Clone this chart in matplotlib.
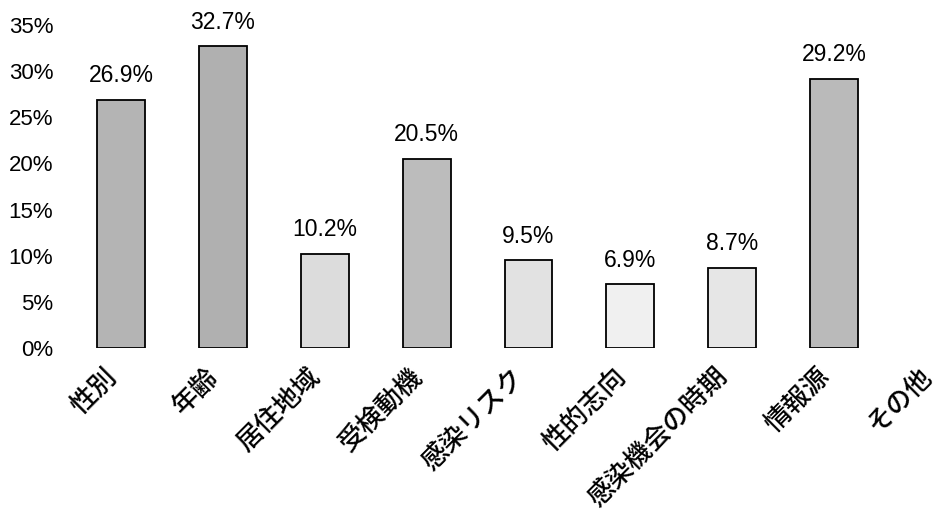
import matplotlib
matplotlib.use("Agg")
import matplotlib.pyplot as plt
from matplotlib.transforms import ScaledTranslation

categories = ["性別", "年齢", "居住地域", "受検動機", "感染リスク", "性的志向", "感染機会の時期", "情報源", "その他"]
values = [26.9, 32.7, 10.2, 20.5, 9.5, 6.9, 8.7, 29.2, None]
yticks = [0, 5, 10, 15, 20, 25, 30, 35]

face_colors = ["#b4b4b4", "#b0b0b0", "#dcdcdc", "#bcbcbc", "#e2e2e2", "#f0f0f0", "#e6e6e6", "#bababa", "#ffffff"]

W, H = 938, 516
fig = plt.figure(figsize=(W / 100, H / 100), dpi=100)
left_px, right_px = 70, 938
bottom_px, top_px = 516 - 348, 516 - 25
ax = fig.add_axes([left_px / W, bottom_px / H, (right_px - left_px) / W, (top_px - bottom_px) / H])

xs = list(range(len(categories)))
for x, v, c in zip(xs, values, face_colors):
    if v is None:
        continue
    ax.bar(x, v, width=0.47, color=c, edgecolor="black", linewidth=1.3)
    ax.annotate(f"{v:.1f}%", (x, v), xytext=(0, 9), textcoords="offset points",
                ha="center", va="bottom", fontsize=16.5, family="Liberation Sans")

ax.set_xlim(-0.5, 8.02)
ax.set_ylim(0, 35)
ax.set_yticks(yticks)
ax.set_yticklabels([f"{t}%" for t in yticks], fontsize=16, family="Liberation Sans")
ax.set_xticks(xs)
ax.set_xticklabels([])
lab_tr = ax.get_xaxis_transform() + ScaledTranslation(-18 / 100, -15 / 100, fig.dpi_scale_trans)
for x, cat in zip(xs, categories):
    ax.text(x, 0, cat, transform=lab_tr, rotation=45, ha="right", va="top",
            rotation_mode="anchor", fontsize=19,
            family=["Noto Sans CJK JP", "DejaVu Sans"], weight="medium", clip_on=False)
ax.tick_params(axis="both", length=0)
ax.tick_params(axis="y", pad=12)
for s in ax.spines.values():
    s.set_visible(False)

fig.savefig("out.png", dpi=100)
